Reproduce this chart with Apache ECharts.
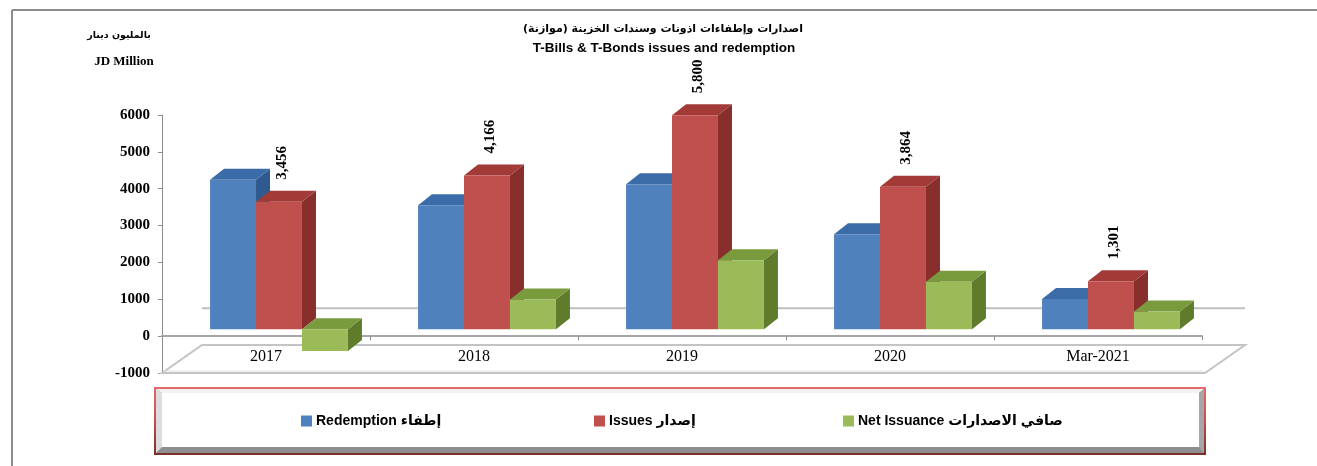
<!DOCTYPE html>
<html>
<head>
<meta charset="utf-8">
<script src="https://cdn.jsdelivr.net/npm/echarts@6/dist/echarts.min.js"></script>
<style>
html,body{margin:0;padding:0;background:#fff;}
#chart{width:1317px;height:466px;}
</style>
</head>
<body>
<div id="chart"></div>
<script>
// ---- data ----
const categories = ['2017', '2018', '2019', '2020', 'Mar-2021'];
const redemption = [4050, 3360, 3930, 2575, 820];
const issues = [3456, 4166, 5800, 3864, 1301];
const netIssuance = [-594, 806, 1870, 1289, 481];
const yMin = -1000, yMax = 6000, yStep = 1000;
const seriesNames = ['Redemption إطفاء', 'Issues إصدار', 'Net Issuance صافي الاصدارات'];

// ---- styles ----
const palettes = [
  { front: '#4F81BD', top: '#3C6CA8', side: '#2E5A8F' },
  { front: '#C0504D', top: '#A23B38', side: '#882E2C' },
  { front: '#9BBB59', top: '#7A9A3E', side: '#5F7B2C' }
];
const BAR_FRAC = 0.221, SHIFT_X = 13, SHIFT_Y = -7, DX = 14, DY = -11;
const FLOOR_DX = 40, FLOOR_DY = -28;

function fmt(v) { return v.toLocaleString('en-US'); }

function barRenderer(slot, pal, showLabel) {
  return function (params, api) {
    const i = api.value(0), v = api.value(1);
    const band = api.size([1, 0])[0];
    const w = band * BAR_FRAC;
    const p = api.coord([i, v]), z = api.coord([i, 0]);
    const cx = p[0] + SHIFT_X + (slot - 1) * w;
    const x0 = cx - w / 2, x1 = cx + w / 2;
    const yt = Math.min(p[1], z[1]) + SHIFT_Y, yb = Math.max(p[1], z[1]) + SHIFT_Y;
    const children = [
      { type: 'polygon', shape: { points: [[x1, yt], [x1 + DX, yt + DY], [x1 + DX, yb + DY], [x1, yb]] }, style: { fill: pal.side } },
      { type: 'polygon', shape: { points: [[x0, yt], [x0 + DX, yt + DY], [x1 + DX, yt + DY], [x1, yt]] }, style: { fill: pal.top } },
      { type: 'rect', shape: { x: x0, y: yt, width: w, height: yb - yt }, style: { fill: pal.front } }
    ];
    if (showLabel) {
      children.push({
        type: 'text', x: cx + 3, y: yt - 22, rotation: Math.PI / 2,
        style: { text: fmt(v), fill: '#000', font: 'bold 15px "Liberation Serif"', align: 'left', verticalAlign: 'middle' }
      });
    }
    return { type: 'group', children: children };
  };
}

function floorRenderer(params, api) {
  const cs = params.coordSys;
  const zeroY = api.coord([0, 0])[1];
  const L = cs.x, R = cs.x + cs.width + 3, B = cs.y + cs.height;
  const lineStyle = { stroke: '#BFBFBF', lineWidth: 2, fill: null };
  return {
    type: 'group',
    children: [
      { type: 'polygon', shape: { points: [[L, B], [R, B], [R + FLOOR_DX, B + FLOOR_DY], [L + FLOOR_DX, B + FLOOR_DY]] },
        style: { fill: null, stroke: '#C4C4C4', lineWidth: 2 } },
      { type: 'polyline', shape: { points: [[L + 2, B - 2], [R - 2, B - 2]] }, style: { stroke: '#E2E2E2', lineWidth: 1, fill: null } },
      { type: 'line', shape: { x1: L + FLOOR_DX, y1: zeroY + FLOOR_DY, x2: R + FLOOR_DX, y2: zeroY + FLOOR_DY }, style: lineStyle }
    ]
  };
}

const chart = echarts.init(document.getElementById('chart'), null, { renderer: 'canvas' });

const valueSets = [redemption, issues, netIssuance];
const barSeries = valueSets.map(function (vals, k) {
  return {
    name: seriesNames[k],
    type: 'custom',
    z: 6,
    itemStyle: { color: palettes[k].front },
    renderItem: barRenderer(k, palettes[k], k === 1),
    encode: { x: 0, y: 1 },
    data: vals.map(function (v, i) { return [i, v]; })
  };
});

const legendBase = {
  orient: 'horizontal', padding: 0, top: 414, itemWidth: 11, itemHeight: 11, itemGap: 10,
  icon: 'rect', selectedMode: false,
  textStyle: { fontFamily: '"Liberation Sans", "DejaVu Sans", sans-serif', fontWeight: 'bold', fontSize: 14, color: '#000', padding: [0, 0, 0, -1] }
};

const option = {
  backgroundColor: '#fff',
  animation: false,
  grid: { left: 162, right: 115, top: 115, bottom: 93, containLabel: false },
  legend: [
    Object.assign({}, legendBase, { left: 301, data: [seriesNames[0]] }),
    Object.assign({}, legendBase, { left: 594, data: [seriesNames[1]] }),
    Object.assign({}, legendBase, { left: 843, data: [seriesNames[2]] })
  ],
  graphic: [
    { type: 'line', shape: { x1: 12, y1: 10, x2: 1317, y2: 10 }, style: { stroke: '#8C8C8C', lineWidth: 2 }, z: 0 },
    { type: 'line', shape: { x1: 12, y1: 10, x2: 12, y2: 466 }, style: { stroke: '#8C8C8C', lineWidth: 2 }, z: 0 },
    { type: 'text', x: 663, y: 29, style: { text: 'اصدارات وإطفاءات اذونات وسندات الخزينة (موازنة)', font: 'bold 11px "DejaVu Sans", sans-serif', fill: '#000', align: 'center', verticalAlign: 'middle' } },
    { type: 'text', x: 664, y: 48, style: { text: 'T-Bills & T-Bonds issues and redemption', font: 'bold 13.5px "Liberation Sans", sans-serif', fill: '#000', align: 'center', verticalAlign: 'middle' } },
    { type: 'text', x: 119, y: 36, style: { text: 'بالمليون دينار', font: 'bold 9.5px "DejaVu Sans", sans-serif', fill: '#000', align: 'center', verticalAlign: 'middle' } },
    { type: 'text', x: 124, y: 62, style: { text: 'JD Million', font: 'bold 13px "Liberation Serif", serif', fill: '#000', align: 'center', verticalAlign: 'middle' } },
    // legend frame
    { type: 'rect', z: -1, shape: { x: 154, y: 387, width: 1052, height: 68 },
      style: { fill: { type: 'linear', x: 0, y: 0, x2: 0, y2: 1, colorStops: [{ offset: 0, color: '#E36C6A' }, { offset: 0.5, color: '#C0504D' }, { offset: 1, color: '#7A2E2C' }] } } },
    { type: 'rect', z: -1, shape: { x: 156, y: 389, width: 1048, height: 64 }, style: { fill: '#8E8E8E' } },
    { type: 'polygon', z: -1, shape: { points: [[156, 389], [162, 393], [162, 447], [156, 453]] }, style: { fill: '#DCDCDC' } },
    { type: 'polygon', z: -1, shape: { points: [[156, 389], [1204, 389], [1199, 393], [162, 393]] }, style: { fill: '#F2F2F2' } },
    { type: 'polygon', z: -1, shape: { points: [[1204, 389], [1204, 453], [1199, 447], [1199, 393]] }, style: { fill: '#A6A6A6' } },
    { type: 'rect', z: -1, shape: { x: 162, y: 393, width: 1037, height: 54 }, style: { fill: '#FFFFFF' } }
  ],
  xAxis: {
    type: 'category',
    data: categories,
    boundaryGap: true,
    z: 5,
    axisLine: { onZero: true, lineStyle: { color: '#A6A6A6', width: 2 } },
    axisTick: { show: true, length: 4, lineStyle: { color: '#8C8C8C' } },
    axisLabel: { color: '#000', fontFamily: '"Liberation Serif", serif', fontSize: 16, margin: -24 },
    splitLine: { show: false }
  },
  yAxis: {
    type: 'value',
    min: yMin, max: yMax, interval: yStep,
    axisLine: { show: true, lineStyle: { color: '#8C8C8C', width: 1 } },
    axisTick: { show: true, length: 4, lineStyle: { color: '#8C8C8C' } },
    axisLabel: { color: '#000', fontFamily: '"Liberation Serif", serif', fontWeight: 'bold', fontSize: 15, margin: 12,
      formatter: function (v) { return String(v); } },
    splitLine: { show: false }
  },
  series: [
    { name: 'floor', type: 'custom', z: 1, silent: true, renderItem: floorRenderer, encode: { x: 0, y: 1 }, data: [[0, 0]] }
  ].concat(barSeries)
};

chart.setOption(option);
</script>
</body>
</html>
